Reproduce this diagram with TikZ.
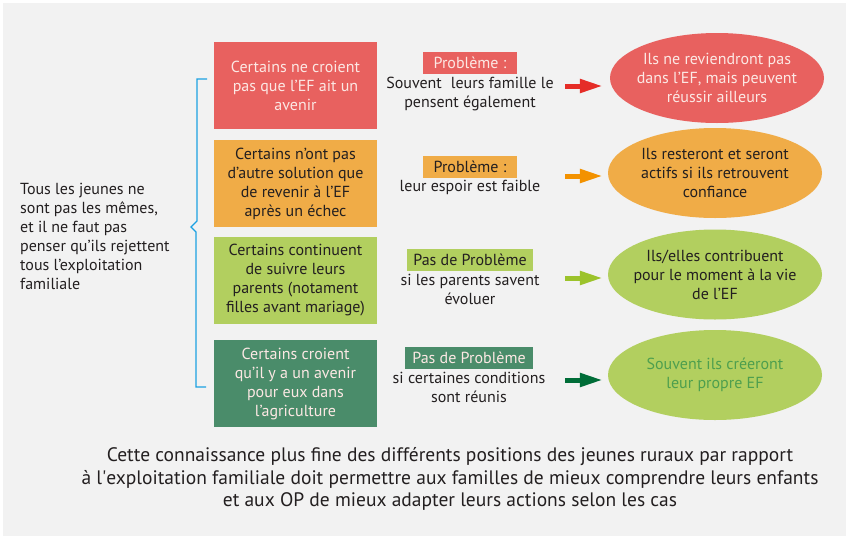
\documentclass[tikz,border=0pt]{standalone}
\usepackage{fontspec}
\setmainfont{PT Sans}
\usetikzlibrary{positioning,shapes.geometric,arrows.meta}
\definecolor{fond}{HTML}{F2F2F2}
\definecolor{encre}{HTML}{231F20}
\definecolor{clair}{HTML}{FCE8E4}
\definecolor{rouge}{HTML}{E8615F}
\definecolor{orange}{HTML}{F0AC47}
\definecolor{vertclair}{HTML}{B2CF5F}
\definecolor{vertfonce}{HTML}{4A8C6A}
\definecolor{frouge}{HTML}{E52D27}
\definecolor{forange}{HTML}{F39200}
\definecolor{fvertclair}{HTML}{9CC32B}
\definecolor{fvertfonce}{HTML}{006D38}
\definecolor{vertecrit}{HTML}{4E9F4E}
\definecolor{bleu}{HTML}{1BA1E2}

\begin{document}
\begin{tikzpicture}[x=1pt,y=-1pt,
		cas/.style={minimum width=163pt,minimum height=87pt,inner sep=0pt,align=center,font=\fontsize{16}{19}\selectfont},
		bilan/.style={ellipse,minimum width=214pt,minimum height=90pt,inner xsep=-25pt,inner ysep=0pt,align=center,font=\fontsize{16}{19}\selectfont},
		etiq/.style={minimum height=22pt,inner sep=0pt,font=\fontsize{16}{19}\selectfont},
		note/.style={align=center,inner sep=0pt,text=encre,font=\fontsize{16}{19}\selectfont},
		fleche/.style={line width=5pt,-{Triangle[length=23pt,width=13pt]}}]
		\useasboundingbox (0,0) rectangle (848,536);
		\fill [white] (0,0) rectangle (848,536);
		\fill [fond] (3,3) rectangle (846,536);
		%
		\begin{scope}
			\node [cas,fill=rouge,text=clair] (c1) at (295.5,85.5) {Certains ne croient\\pas que l’EF ait un\\avenir};
			\node [cas,fill=orange,text=encre] (c2) at (295.5,183.5) {Certains n’ont pas\\d’autre solution que\\de revenir à l’EF\\après un échec};
			\node [cas,fill=vertclair,text=encre] (c3) at (295.5,280.5) {Certains continuent\\de suivre leurs\\parents (notament\\filles avant mariage)};
			\node [cas,fill=vertfonce,text=clair] (c4) at (295.5,383.5) {Certains croient\\qu’il y a un avenir\\pour eux dans\\l’agriculture};
		\end{scope}
		%
		\node [note,anchor=west,align=left] (intro) at (20,236) {Tous les jeunes ne\\sont pas les mêmes,\\et il ne faut pas\\penser qu’ils rejettent\\tous l’exploitation\\familiale};
		\draw [bleu,line width=1.3pt] (207,79) -- (197,79) -- (197,221) -- (191,227) -- (196,232) -- (196,387) -- (206,387);
		%
		\begin{scope}
			\node [etiq,minimum width=94pt,fill=rouge,text=clair] (p1) at (470,63) {Problème :};
			\node [note] (n1) at (470,93.5) {Souvent\hspace{9pt}leurs famille le\\pensent également};
			\node [etiq,minimum width=94pt,fill=orange,text=encre] (p2) at (470,166.5) {Problème :};
			\node [note] (n2) at (470,187) {leur espoir est faible};
			\node [etiq,minimum width=126pt,fill=vertclair,text=encre] (p3) at (470,260) {Pas de Problème};
			\node [note] (n3) at (470,289.5) {si les parents savent\\évoluer};
			\node [etiq,minimum width=128pt,fill=vertfonce,text=clair] (p4) at (469,358) {Pas de Problème};
			\node [note] (n4) at (469,387.5) {si certaines conditions\\sont réunis};
		\end{scope}
		%
		\begin{scope}
			\node [bilan,fill=rouge,text=clair] (e1) at (717,78) {Ils ne reviendront pas\\dans l’EF, mais peuvent\\réussir ailleurs};
			\node [bilan,fill=orange,text=encre] (e2) at (715,173) {Ils resteront et seront\\actifs si ils retrouvent\\confiance};
			\node [bilan,fill=vertclair,text=encre] (e3) at (715,274.5) {Ils/elles contribuent\\pour le moment à la vie\\de l’EF};
			\node [bilan,fill=vertclair,text=vertecrit] (e4) at (715,375) {Souvent ils créeront\\leur propre EF};
		\end{scope}
		%
		\coordinate (a1) at (565,86);
		\coordinate (a2) at (565,176);
		\coordinate (a3) at (565,278);
		\coordinate (a4) at (565,380);
		\draw [fleche,frouge] (a1) -- ([xshift=-7pt]a1 -| e1.west);
		\draw [fleche,forange] (a2) -- ([xshift=-5pt]a2 -| e2.west);
		\draw [fleche,fvertclair] (a3) -- ([xshift=-5pt]a3 -| e3.west);
		\draw [fleche,fvertfonce] (a4) -- ([xshift=-5pt]a4 -| e4.west);
		%
		\node [align=center,text=encre,font=\fontsize{19.5}{22.5}\selectfont] (conclusion) at (450,479) {Cette connaissance plus fine des différents positions des jeunes ruraux par rapport\\à l\textquotesingle exploitation familiale doit permettre aux familles de mieux comprendre leurs enfants\\et aux OP de mieux adapter leurs actions selon les cas};
	\end{tikzpicture}
\end{document}
